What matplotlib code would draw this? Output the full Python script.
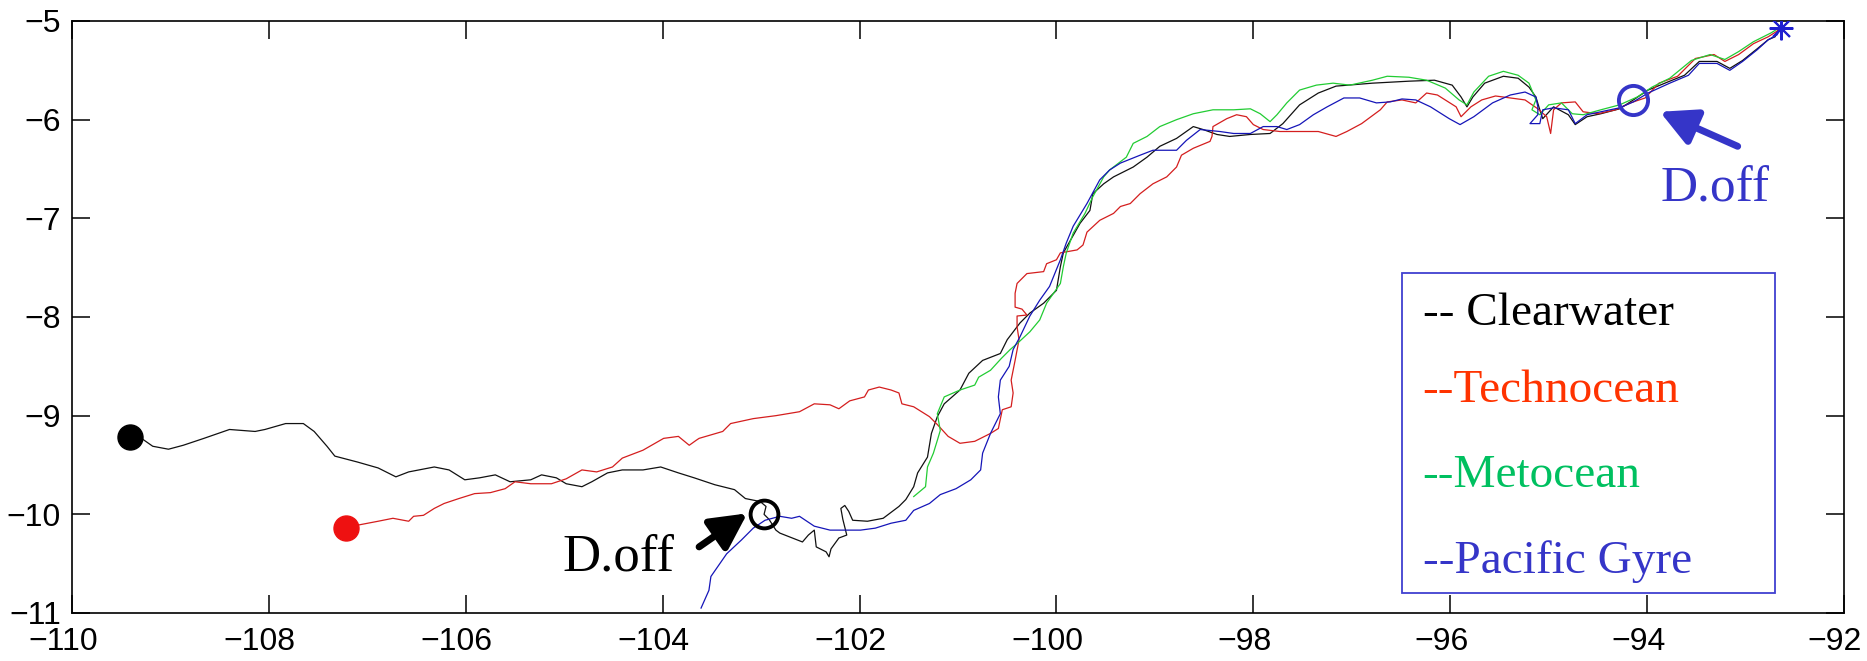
import matplotlib
matplotlib.use("Agg")
import matplotlib.pyplot as plt
from matplotlib.patches import Rectangle
from matplotlib.transforms import ScaledTranslation

# ---------------- data (lon, lat) ----------------
clear_lon = [-92.66, -92.70, -92.77, -92.88, -93.03, -93.16, -93.29, -93.47, -93.62, -93.77,
             -93.99, -94.14, -94.28, -94.47, -94.61, -94.73, -94.80, -94.95, -95.06, -95.09,
             -95.13, -95.20, -95.31, -95.46, -95.65, -95.77, -95.83, -95.89, -95.98, -96.16,
             -96.42, -96.79, -97.16, -97.34, -97.53, -97.70, -97.83, -98.03, -98.24, -98.37,
             -98.51, -98.61, -98.78, -98.95, -99.08, -99.22, -99.42, -99.52, -99.63, -99.66,
             -99.76, -99.93, -99.96, -100.00, -100.13, -100.27, -100.37, -100.50, -100.57, -100.75,
             -100.89, -100.98, -101.14, -101.21, -101.27, -101.31, -101.41, -101.45, -101.53, -101.60,
             -101.76, -101.92, -102.07, -102.11, -102.15, -102.19, -102.17, -102.13, -102.21, -102.29,
             -102.31, -102.34, -102.44, -102.46, -102.52, -102.58, -102.81, -102.85, -102.92, -102.97,
             -102.95, -103.01, -103.16, -103.27, -103.47, -103.68, -103.84, -104.02, -104.20, -104.41,
             -104.56, -104.72, -104.82, -104.98, -105.08, -105.23, -105.34, -105.55, -105.70, -105.86,
             -106.01, -106.17, -106.32, -106.58, -106.71, -106.89, -107.10, -107.33, -107.41, -107.54,
             -107.65, -107.83, -108.04, -108.14, -108.40, -108.66, -108.87, -109.02, -109.18, -109.28,
             -109.41]
clear_lat = [-5.07, -5.16, -5.19, -5.28, -5.40, -5.48, -5.41, -5.41, -5.55, -5.61,
             -5.70, -5.80, -5.89, -5.94, -5.97, -6.05, -5.95, -5.87, -5.99, -5.90,
             -5.77, -5.67, -5.58, -5.56, -5.63, -5.77, -5.87, -5.77, -5.65, -5.60,
             -5.61, -5.63, -5.66, -5.73, -5.85, -6.04, -6.14, -6.15, -6.17, -6.15,
             -6.10, -6.07, -6.19, -6.27, -6.38, -6.48, -6.58, -6.65, -6.75, -6.92,
             -7.05, -7.35, -7.49, -7.73, -7.86, -7.96, -8.06, -8.23, -8.37, -8.44,
             -8.57, -8.74, -8.88, -9.01, -9.18, -9.42, -9.58, -9.72, -9.85, -9.92,
             -10.04, -10.07, -10.06, -9.97, -9.91, -9.94, -10.05, -10.21, -10.24, -10.35,
             -10.43, -10.38, -10.33, -10.16, -10.21, -10.28, -10.19, -10.16, -10.05, -10.00,
             -9.92, -9.87, -9.84, -9.75, -9.70, -9.63, -9.58, -9.52, -9.55, -9.55,
             -9.58, -9.67, -9.72, -9.69, -9.63, -9.60, -9.65, -9.67, -9.60, -9.63,
             -9.65, -9.55, -9.52, -9.57, -9.62, -9.53, -9.47, -9.41, -9.31, -9.16,
             -9.08, -9.08, -9.14, -9.16, -9.14, -9.23, -9.30, -9.34, -9.31, -9.24,
             -9.22]

techno_lon = [-92.66, -92.77, -92.92, -93.07, -93.21, -93.32, -93.51, -93.69, -93.88, -94.02,
              -94.17, -94.32, -94.50, -94.65, -94.73, -94.87, -94.95, -94.98, -95.02, -95.11,
              -95.24, -95.39, -95.54, -95.68, -95.79, -95.89, -95.94, -96.13, -96.24, -96.35,
              -96.49, -96.64, -96.71, -96.90, -97.05, -97.16, -97.34, -97.53, -97.73, -97.90,
              -98.00, -98.07, -98.17, -98.27, -98.41, -98.42, -98.44, -98.61, -98.73, -98.78,
              -98.88, -99.02, -99.15, -99.25, -99.35, -99.42, -99.56, -99.69, -99.73, -99.79,
              -99.96, -100.00, -100.10, -100.13, -100.30, -100.40, -100.42, -100.42, -100.35, -100.30,
              -100.40, -100.40, -100.38, -100.42, -100.46, -100.44, -100.46, -100.55, -100.59, -100.67,
              -100.83, -100.98, -101.10, -101.21, -101.29, -101.45, -101.57, -101.60, -101.68, -101.80,
              -101.91, -101.95, -102.10, -102.21, -102.30, -102.46, -102.61, -102.85, -103.08, -103.31,
              -103.39, -103.63, -103.66, -103.73, -103.84, -103.99, -104.20, -104.41, -104.51, -104.67,
              -104.82, -104.98, -105.13, -105.34, -105.50, -105.60, -105.75, -105.91, -106.07, -106.22,
              -106.32, -106.43, -106.53, -106.58, -106.74, -106.89, -107.10, -107.22]
techno_lat = [-5.09, -5.16, -5.23, -5.34, -5.41, -5.34, -5.38, -5.56, -5.63, -5.78,
              -5.83, -5.90, -5.94, -5.92, -5.82, -5.83, -5.90, -6.14, -5.97, -5.89,
              -5.80, -5.78, -5.76, -5.80, -5.87, -5.97, -5.87, -5.75, -5.73, -5.83,
              -5.80, -5.82, -5.90, -6.04, -6.12, -6.17, -6.12, -6.12, -6.12, -6.10,
              -6.05, -5.97, -5.95, -5.99, -6.07, -6.17, -6.22, -6.29, -6.36, -6.48,
              -6.58, -6.65, -6.75, -6.85, -6.88, -6.95, -7.02, -7.14, -7.27, -7.32,
              -7.35, -7.42, -7.46, -7.54, -7.56, -7.66, -7.76, -7.90, -7.92, -7.98,
              -7.99, -8.10, -8.23, -8.44, -8.64, -8.77, -8.91, -8.94, -9.13, -9.18,
              -9.26, -9.28, -9.21, -9.09, -9.01, -8.91, -8.88, -8.77, -8.74, -8.71,
              -8.74, -8.81, -8.85, -8.93, -8.89, -8.88, -8.96, -9.00, -9.03, -9.08,
              -9.16, -9.23, -9.25, -9.30, -9.21, -9.23, -9.35, -9.43, -9.52, -9.57,
              -9.55, -9.64, -9.69, -9.69, -9.67, -9.74, -9.78, -9.79, -9.84, -9.89,
              -9.94, -10.01, -10.02, -10.07, -10.04, -10.07, -10.11, -10.14]

meto_lon = [-92.66, -92.74, -92.92, -93.07, -93.21, -93.36, -93.55, -93.77, -93.95, -94.10,
            -94.28, -94.47, -94.65, -94.76, -94.87, -95.00, -95.09, -95.17, -95.13, -95.20,
            -95.31, -95.46, -95.61, -95.76, -95.83, -95.91, -96.05, -96.24, -96.42, -96.64,
            -96.79, -97.02, -97.19, -97.36, -97.53, -97.66, -97.76, -97.83, -97.93, -98.03,
            -98.20, -98.41, -98.61, -98.78, -98.95, -99.08, -99.22, -99.29, -99.46, -99.52,
            -99.63, -99.71, -99.83, -99.90, -99.93, -99.96, -100.03, -100.10, -100.17, -100.27,
            -100.40, -100.47, -100.56, -100.67, -100.79, -100.83, -100.98, -101.14, -101.21, -101.18,
            -101.21, -101.25, -101.31, -101.33, -101.45]
meto_lat = [-5.07, -5.12, -5.21, -5.31, -5.39, -5.34, -5.40, -5.58, -5.67, -5.77,
            -5.85, -5.90, -5.95, -5.94, -5.83, -5.85, -5.95, -5.90, -5.80, -5.63,
            -5.55, -5.51, -5.56, -5.72, -5.85, -5.80, -5.68, -5.60, -5.57, -5.56,
            -5.60, -5.65, -5.63, -5.65, -5.70, -5.83, -5.95, -6.02, -5.94, -5.89,
            -5.90, -5.90, -5.94, -6.00, -6.07, -6.17, -6.24, -6.38, -6.51, -6.58,
            -6.78, -6.95, -7.15, -7.35, -7.49, -7.66, -7.76, -7.86, -8.03, -8.15,
            -8.27, -8.33, -8.42, -8.54, -8.61, -8.69, -8.74, -8.81, -8.98, -9.15,
            -9.25, -9.38, -9.52, -9.72, -9.82]

gyre_lon = [-92.64, -92.68, -92.77, -92.88, -93.03, -93.16, -93.29, -93.47, -93.58, -93.77,
            -93.99, -94.14, -94.28, -94.47, -94.61, -94.73, -94.80, -94.95, -95.06, -95.09,
            -95.19, -95.11, -95.11, -95.13, -95.24, -95.39, -95.57, -95.76, -95.90, -96.01,
            -96.20, -96.35, -96.49, -96.61, -96.75, -96.92, -97.08, -97.25, -97.39, -97.53,
            -97.66, -97.76, -97.90, -98.03, -98.20, -98.34, -98.54, -98.68, -98.78, -99.02,
            -99.15, -99.35, -99.46, -99.56, -99.69, -99.83, -99.90, -99.96, -100.07, -100.17,
            -100.27, -100.37, -100.44, -100.48, -100.57, -100.59, -100.57, -100.67, -100.75, -100.77,
            -100.87, -101.02, -101.18, -101.29, -101.45, -101.53, -101.68, -101.84, -101.99, -102.15,
            -102.30, -102.46, -102.61, -102.69, -102.81, -102.96, -103.08, -103.20, -103.35, -103.51,
            -103.53, -103.61]
gyre_lat = [-5.07, -5.14, -5.19, -5.29, -5.41, -5.50, -5.43, -5.43, -5.55, -5.63,
            -5.73, -5.82, -5.88, -5.92, -5.95, -6.04, -5.90, -5.88, -5.90, -6.04,
            -6.04, -5.95, -5.87, -5.77, -5.72, -5.75, -5.83, -5.97, -6.05, -5.99,
            -5.87, -5.80, -5.79, -5.82, -5.83, -5.78, -5.78, -5.87, -5.95, -6.05,
            -6.10, -6.07, -6.07, -6.14, -6.14, -6.12, -6.10, -6.21, -6.31, -6.31,
            -6.36, -6.44, -6.51, -6.61, -6.85, -7.08, -7.25, -7.42, -7.69, -7.83,
            -7.99, -8.20, -8.33, -8.50, -8.64, -8.81, -8.98, -9.18, -9.38, -9.55,
            -9.65, -9.74, -9.80, -9.89, -9.96, -10.06, -10.09, -10.14, -10.16, -10.16,
            -10.16, -10.12, -10.02, -10.04, -10.02, -10.06, -10.14, -10.26, -10.40, -10.63,
            -10.77, -10.95]

legend_labels = ["-- Clearwater", "--Technocean", "--Metocean", "--Pacific Gyre"]
legend_colors = ["#000000", "#FF3300", "#00C060", "#3535C8"]

x_ticks = [-110, -108, -106, -104, -102, -100, -98, -96, -94, -92]
y_ticks = [-11, -10, -9, -8, -7, -6, -5]

# ---------------- figure ----------------
W, H = 1867, 661
fig = plt.figure(figsize=(W / 100, H / 100), dpi=100)
ax = fig.add_axes([72 / W, 1 - 613 / H, (1844 - 72) / W, (613 - 21) / H])

ax.plot(clear_lon, clear_lat, color="#111111", lw=0.9, zorder=3)
ax.plot(techno_lon, techno_lat, color="#D41E1E", lw=0.9, zorder=3)
ax.plot(meto_lon, meto_lat, color="#22CC33", lw=0.9, zorder=3)
ax.plot(gyre_lon, gyre_lat, color="#1515B8", lw=0.9, zorder=3)

# end points
ax.plot([clear_lon[-1]], [clear_lat[-1]], "o", color="#000000", ms=18, zorder=4)
ax.plot([techno_lon[-1]], [techno_lat[-1]], "o", color="#EE1111", ms=18, zorder=4)
# start star
ax.plot([gyre_lon[0]], [gyre_lat[0]], marker=(8, 2, 0), color="#2020D0", ms=17, mew=1.5, zorder=4)

# drogue-off circles
ax.plot([-94.14], [-5.80], "o", mfc="none", mec="#3535C8", ms=21, mew=2.8, zorder=5)
ax.plot([-102.97], [-10.00], "o", mfc="none", mec="#000000", ms=20, mew=2.8, zorder=5)

# arrows
arrow_style = "-|>,head_length=1.45,head_width=0.75"
ax.annotate("", xy=(-93.87, -5.92), xytext=(-93.08, -6.27),
            arrowprops=dict(arrowstyle=arrow_style, lw=5, color="#3535C8",
                            mutation_scale=15, shrinkA=0, shrinkB=0), zorder=6)
ax.annotate("", xy=(-103.14, -9.99), xytext=(-103.63, -10.33),
            arrowprops=dict(arrowstyle=arrow_style, lw=5, color="#000000",
                            mutation_scale=15, shrinkA=0, shrinkB=0), zorder=6)

serif = "Liberation Serif"
ax.text(-93.86, -6.83, "D.off", fontsize=37, family=serif, color="#3535C8",
        ha="left", va="baseline", zorder=6)
ax.text(-105.02, -10.57, "D.off", fontsize=38, family=serif, color="#000000",
        ha="left", va="baseline", zorder=6)

# text legend box
ax.add_patch(Rectangle((-96.49, -10.80), 3.79, 3.25, facecolor="white",
                       edgecolor="#4040D0", lw=1.3, zorder=7))
legend_y = [-8.08, -8.86, -9.72, -10.59]
for lab, col, yy in zip(legend_labels, legend_colors, legend_y):
    ax.text(-96.28, yy, lab, fontsize=34, family=serif, color=col,
            ha="left", va="baseline", zorder=8)

# axes styling (MATLAB look)
ax.set_xlim(-110, -92)
ax.set_ylim(-11, -5)
ax.set_xticks(x_ticks)
ax.set_yticks(y_ticks)
ax.tick_params(direction="in", length=13, width=1.1, top=True, right=True,
               labelsize=23, pad=8)
ax.tick_params(axis="x", pad=10)
shift = ScaledTranslation(-9 / 100, 0, fig.dpi_scale_trans)
for lbl in ax.get_xticklabels():
    lbl.set_family("Liberation Sans")
    lbl.set_transform(lbl.get_transform() + shift)
for lbl in ax.get_yticklabels():
    lbl.set_family("Liberation Sans")
for sp in ax.spines.values():
    sp.set_linewidth(1.2)

fig.savefig("out.png", dpi=100)
